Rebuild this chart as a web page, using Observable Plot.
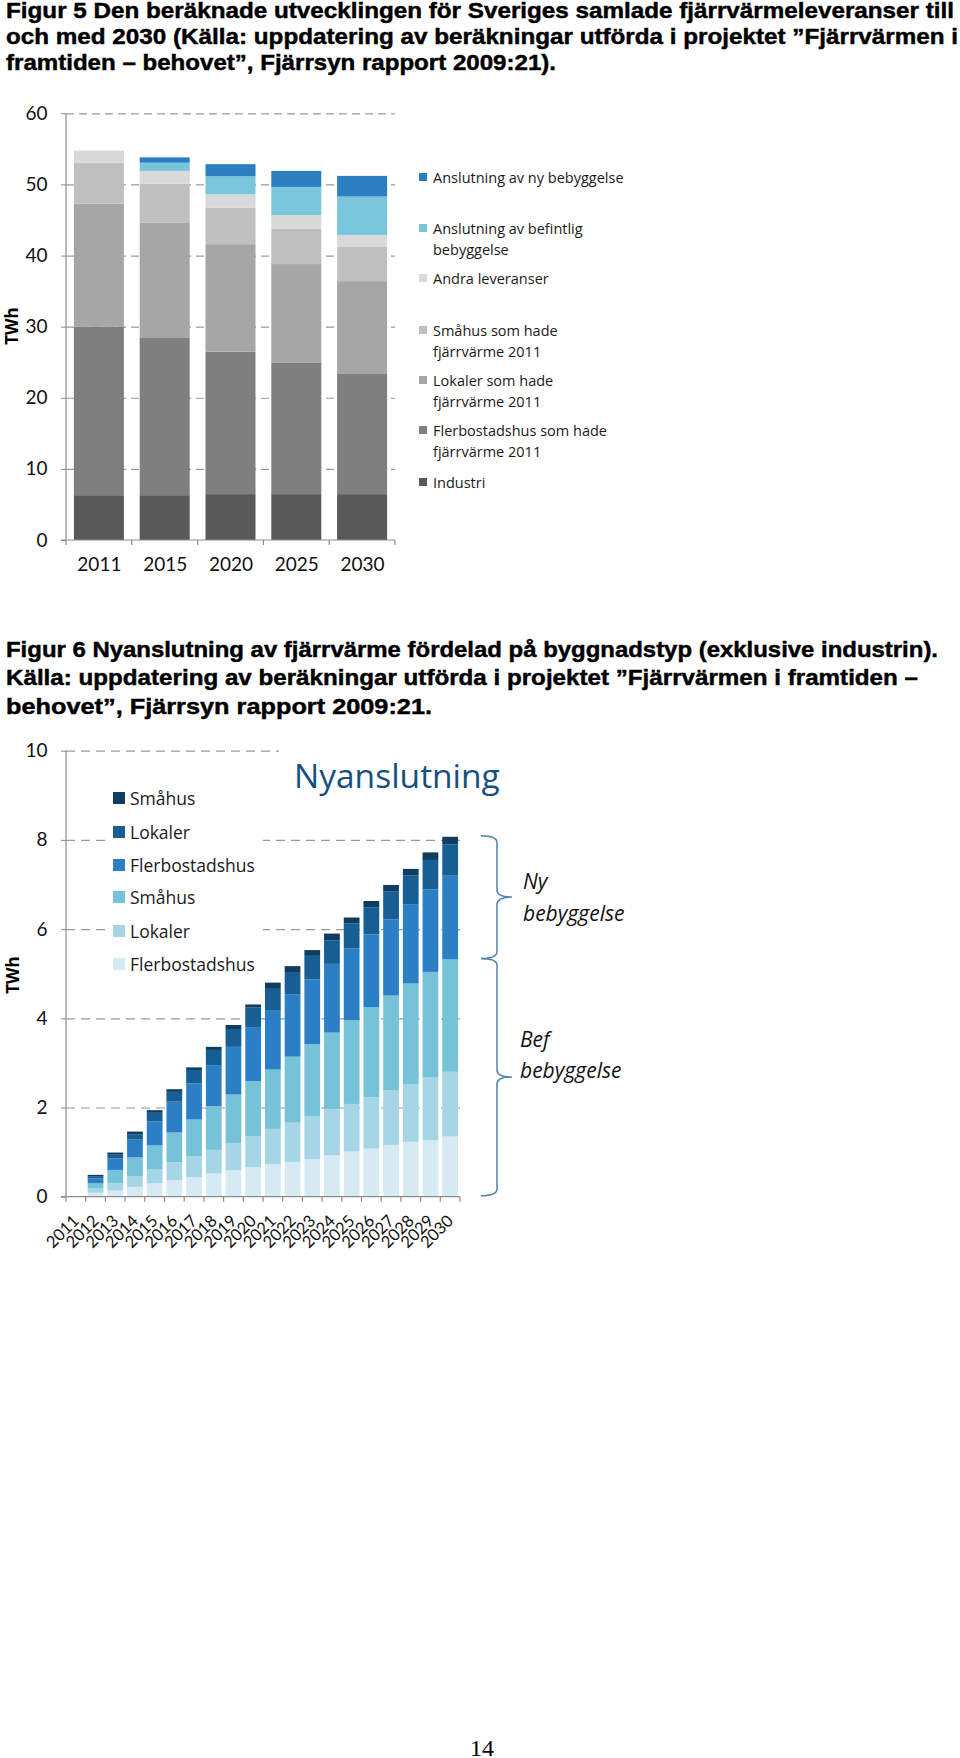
<!DOCTYPE html>
<html><head><meta charset="utf-8">
<script src="https://cdn.jsdelivr.net/npm/d3@7"></script>
<script src="https://cdn.jsdelivr.net/npm/@observablehq/plot@0.6"></script>
<style>
html,body{margin:0;padding:0;background:#fff;}
body{width:960px;height:1758px;position:relative;overflow:hidden;font-family:"Open Sans",sans-serif;color:#000;}
.t{position:absolute;left:6px;font-family:"Liberation Sans",Arial,sans-serif;font-weight:bold;font-size:22px;line-height:22px;white-space:nowrap;transform-origin:0 50%;-webkit-text-stroke:0.45px #000;}
.chart{position:absolute;left:0;}
.leg{position:absolute;font-family:"Open Sans",sans-serif;white-space:pre-line;color:#1a1a1a;}
.sw{position:absolute;}
.ylab{position:absolute;font-family:"Open Sans",sans-serif;font-weight:bold;font-size:17px;transform:translate(-50%,-50%) rotate(-90deg);white-space:nowrap;}
.box{position:absolute;background:#fff;}
</style>
</head><body>
<div id="root"></div>
<script>
// ---------- Figur 5 data ----------
const years5 = ["2011", "2015", "2020", "2025", "2030"];
const industri = [6.3, 6.3, 6.45, 6.45, 6.45];
const flerbostadshus2011 = [23.7, 22.1, 20.05, 18.45, 16.9];
const lokaler2011 = [17.3, 16.2, 15.1, 13.9, 13.05];
const smahus2011 = [5.7, 5.5, 5.1, 5.0, 4.8];
const andraLeveranser = [1.75, 1.8, 1.9, 1.9, 1.7];
const befintligBebyggelse = [0, 1.15, 2.55, 3.95, 5.4];
const nyBebyggelse = [0, 0.75, 1.7, 2.25, 2.9];
const series5 = ["Industri", "Flerbostadshus som hade fjärrvärme 2011", "Lokaler som hade fjärrvärme 2011",
  "Småhus som  hade fjärrvärme 2011", "Andra leveranser", "Anslutning av befintlig bebyggelse", "Anslutning av ny bebyggelse"];
const colors5 = ["#595959", "#7f7f7f", "#a6a6a6", "#bfbfbf", "#d9d9d9", "#78c5dc", "#2b7fc1"];
const legend5 = ["Anslutning av ny bebyggelse", "Anslutning av befintlig\nbebyggelse", "Andra leveranser",
  "Småhus som  hade\nfjärrvärme 2011", "Lokaler som hade\nfjärrvärme 2011", "Flerbostadshus som hade\nfjärrvärme 2011", "Industri"];
const legend5Colors = ["#2b7fc1", "#78c5dc", "#d9d9d9", "#bfbfbf", "#a6a6a6", "#7f7f7f", "#595959"];
const ticks5 = [0, 10, 20, 30, 40, 50, 60];

// ---------- Figur 6 data ----------
const years6 = ["2011","2012","2013","2014","2015","2016","2017","2018","2019","2020",
  "2021","2022","2023","2024","2025","2026","2027","2028","2029","2030"];
const befFlerbostadshus = [0, 0.09, 0.14, 0.22, 0.30, 0.37, 0.44, 0.52, 0.59, 0.66, 0.73, 0.78, 0.84, 0.93, 1.01, 1.08, 1.16, 1.23, 1.27, 1.35];
const befLokaler = [0, 0.10, 0.16, 0.24, 0.31, 0.40, 0.47, 0.53, 0.61, 0.70, 0.79, 0.88, 0.97, 1.03, 1.07, 1.15, 1.22, 1.29, 1.40, 1.45];
const befSmahus = [0, 0.11, 0.30, 0.42, 0.54, 0.67, 0.82, 0.98, 1.09, 1.23, 1.33, 1.48, 1.61, 1.72, 1.88, 2.02, 2.13, 2.26, 2.37, 2.52];
const nyFlerbostadshus = [0, 0.11, 0.26, 0.40, 0.54, 0.69, 0.81, 0.92, 1.07, 1.20, 1.32, 1.40, 1.45, 1.54, 1.61, 1.63, 1.71, 1.78, 1.85, 1.89];
const nyLokaler = [0, 0.05, 0.08, 0.12, 0.19, 0.22, 0.30, 0.34, 0.40, 0.45, 0.49, 0.48, 0.53, 0.53, 0.56, 0.61, 0.62, 0.64, 0.66, 0.69];
const nySmahus = [0, 0.03, 0.05, 0.06, 0.06, 0.06, 0.06, 0.07, 0.09, 0.07, 0.14, 0.15, 0.13, 0.15, 0.13, 0.14, 0.15, 0.15, 0.17, 0.17];
const series6 = ["Bef Flerbostadshus", "Bef Lokaler", "Bef Småhus", "Ny Flerbostadshus", "Ny Lokaler", "Ny Småhus"];
const colors6 = ["#d5eaf2", "#a6d6e5", "#76c2d9", "#2b80c5", "#165e93", "#0f3d62"];
const legend6 = ["Småhus", "Lokaler", "Flerbostadshus", "Småhus", "Lokaler", "Flerbostadshus"];
const legend6Colors = ["#0f3d62", "#165e93", "#2b80c5", "#76c2d9", "#a6d6e5", "#d5eaf2"];
const ticks6 = [0, 2, 4, 6, 8, 10];
const braceLabels = [["Ny", "bebyggelse"], ["Bef", "bebyggelse"]];

// ---------- Texts ----------
const titleLines = [
  {text: "Figur 5 Den beräknade utvecklingen för Sveriges samlade fjärrvärmeleveranser till", top: -0.3, w: 948},
  {text: "och med 2030 (Källa: uppdatering av beräkningar utförda i projektet ”Fjärrvärmen i", top: 26.4, w: 952},
  {text: "framtiden – behovet”, Fjärrsyn rapport 2009:21).", top: 51.6, w: 550},
  {text: "Figur 6 Nyanslutning av fjärrvärme fördelad på byggnadstyp (exklusive industrin).", top: 638.5, w: 932},
  {text: "Källa: uppdatering av beräkningar utförda i projektet ”Fjärrvärmen i framtiden –", top: 667.3, w: 912},
  {text: "behovet”, Fjärrsyn rapport 2009:21.", top: 696, w: 426}
];

const root = document.getElementById("root");

function el(tag, cls, style, text) {
  const e = document.createElement(tag);
  if (cls) e.className = cls;
  Object.assign(e.style, style || {});
  if (text != null) e.textContent = text;
  root.appendChild(e);
  return e;
}

const titleEls = titleLines.map(l => {
  const e = el("div", "t", {top: l.top + "px"}, l.text);
  e.dataset.w = l.w;
  return e;
});
function fitTitles() {
  titleEls.forEach(e => {
    e.style.transform = "none";
    const w = e.getBoundingClientRect().width;
    e.style.transform = `scaleX(${(+e.dataset.w) / w})`;
  });
}

function long(cats, names, arrays) {
  const out = [];
  cats.forEach((c, i) => names.forEach((s, j) => out.push({cat: c, series: s, value: arrays[j][i]})));
  return out;
}

function decorate(chart, tickLen) {
  const svg = d3.select(chart);
  const x = chart.scale("x"), y = chart.scale("y");
  const [x0, x1] = x.range;
  const yb = y.apply(0), yt = y.apply(y.domain[1]);
  const g = svg.append("g").attr("stroke", "#8c8c8c").attr("stroke-width", 1.2);
  g.append("line").attr("x1", x0).attr("x2", x0).attr("y1", yt).attr("y2", yb);
  g.append("line").attr("x1", x0 - 5).attr("x2", x1).attr("y1", yb).attr("y2", yb);
  const gap = (x.step - x.bandwidth) / 2;
  const bounds = x.domain.map(d => x.apply(d) - gap);
  bounds.push(x.apply(x.domain[x.domain.length - 1]) + x.bandwidth + gap);
  bounds.forEach(b => g.append("line").attr("x1", b).attr("x2", b).attr("y1", yb).attr("y2", yb + tickLen));
}

// ---------- Figur 5 chart ----------
const top5 = 90;
const data5 = long(years5, series5, [industri, flerbostadshus2011, lokaler2011, smahus2011, andraLeveranser, befintligBebyggelse, nyBebyggelse]);
const fig5 = Plot.plot({
  width: 420, height: 510,
  marginTop: 113.3 - top5, marginBottom: top5 + 510 - 540, marginLeft: 66, marginRight: 25,
  style: {fontFamily: "Lato, 'Open Sans', sans-serif", fontSize: "19px", background: "transparent", color: "#111", overflow: "visible"},
  x: {domain: years5, paddingInner: 0.24, paddingOuter: 0.12, round: false, label: null},
  y: {domain: [0, 60], label: null},
  color: {domain: series5, range: colors5},
  marks: [
    Plot.gridY(ticks5.slice(1), {stroke: "#9a9a9a", strokeOpacity: 1, strokeDasharray: "8,5", strokeWidth: 1.2}),
    Plot.barY(data5, {x: "cat", y: "value", fill: "series"}),
    Plot.axisY(ticks5, {tickSize: 5, tickPadding: 14, stroke: "#8c8c8c", label: null}),
    Plot.axisX({tickSize: 0, tickPadding: 17, label: null})
  ]
});
fig5.classList.add("chart");
fig5.style.top = top5 + "px";
root.appendChild(fig5);
decorate(fig5, 5);

el("div", "ylab", {left: "11px", top: "326px"}, "TWh");

const leg5Tops = [177, 228, 278, 330, 380, 430, 482];
legend5.forEach((lab, i) => {
  el("div", "sw", {left: "419px", top: (leg5Tops[i] - 4) + "px", width: "8px", height: "8px", background: legend5Colors[i]});
  el("div", "leg", {left: "433px", top: (leg5Tops[i] - 10.5) + "px", fontSize: "14.5px", lineHeight: "21px"}, lab);
});

// ---------- Figur 6 chart ----------
const top6 = 730;
const data6 = long(years6, series6, [befFlerbostadshus, befLokaler, befSmahus, nyFlerbostadshus, nyLokaler, nySmahus]);
const fig6 = Plot.plot({
  width: 960, height: 520,
  marginTop: 750.7 - top6, marginBottom: top6 + 520 - 1196.7, marginLeft: 66, marginRight: 500,
  style: {fontFamily: "Lato, 'Open Sans', sans-serif", fontSize: "19px", background: "transparent", color: "#111", overflow: "visible"},
  x: {domain: years6, paddingInner: 0.2, paddingOuter: 0.1, round: false, label: null},
  y: {domain: [0, 10], label: null},
  color: {domain: series6, range: colors6},
  marks: [
    Plot.gridY(ticks6.slice(1), {stroke: "#9a9a9a", strokeOpacity: 1, strokeDasharray: "9,6", strokeWidth: 1.2}),
    Plot.barY(data6, {x: "cat", y: "value", fill: "series"}),
    Plot.axisY(ticks6, {tickSize: 5, tickPadding: 14, stroke: "#8c8c8c", label: null}),
    Plot.axisX({tickSize: 0, tickPadding: 21, tickRotate: -45, fontSize: 16.5, label: null})
  ]
});
fig6.classList.add("chart");
fig6.style.top = top6 + "px";
root.appendChild(fig6);
decorate(fig6, 5);

// braces tied to the 2030 bar
(function () {
  const y = fig6.scale("y");
  const i = years6.length - 1;
  const befTotal = befFlerbostadshus[i] + befLokaler[i] + befSmahus[i];
  const total = befTotal + nyFlerbostadshus[i] + nyLokaler[i] + nySmahus[i];
  const segs = [[total, befTotal], [befTotal, 0]];
  const svg = d3.select(fig6);
  const x0 = 481, x1 = 497, x2 = 512, r = 7;
  segs.forEach(([a, b], k) => {
    const yt = y.apply(a) - 1, yb = y.apply(b) - 1, ym = (yt + yb) / 2;
    const p = `M${x0},${yt} Q${x1},${yt} ${x1},${yt + r} L${x1},${ym - r} Q${x1},${ym} ${x2},${ym} Q${x1},${ym} ${x1},${ym + r} L${x1},${yb - r} Q${x1},${yb} ${x0},${yb}`;
    svg.append("path").attr("d", p).attr("fill", "none").attr("stroke", "#4f83ad").attr("stroke-width", 1.5);
    const offs = k === 0 ? [-15, 17] : [-37, -6];
    braceLabels[k].forEach((t, j) => {
      svg.append("text").attr("x", k === 0 ? 523 : 520).attr("y", ym + offs[j]).attr("dy", "0.35em")
        .attr("text-anchor", "start")
        .attr("font-family", "'Open Sans', sans-serif").attr("font-style", "italic").attr("font-size", 21)
        .attr("fill", "#111").text(t);
    });
  });
})();

// white boxes over the grid (legend and title areas)
el("div", "box", {left: "108px", top: "782px", width: "155px", height: "195px"});
el("div", "box", {left: "279px", top: "738px", width: "200px", height: "66px"});
el("div", "", {position: "absolute", left: "294px", top: "755px", fontFamily: "'Open Sans', sans-serif", fontSize: "33.5px", lineHeight: "40px", color: "#16507f", whiteSpace: "nowrap"}, "Nyanslutning");

const leg6Tops = [798, 832, 865, 897, 931, 964];
legend6.forEach((lab, i) => {
  el("div", "sw", {left: "113px", top: (leg6Tops[i] - 6) + "px", width: "12px", height: "12px", background: legend6Colors[i]});
  el("div", "leg", {left: "130px", top: (leg6Tops[i] - 12) + "px", fontSize: "17.5px", lineHeight: "24px"}, lab);
});

el("div", "ylab", {left: "12px", top: "975px"}, "TWh");

// page number
el("div", "", {position: "absolute", left: "0", width: "964px", textAlign: "center", top: "1736px", fontFamily: "'Liberation Serif', serif", fontSize: "24px", lineHeight: "24px"}, "14");

fitTitles();
if (document.fonts && document.fonts.ready) document.fonts.ready.then(fitTitles);
</script>
</body></html>
